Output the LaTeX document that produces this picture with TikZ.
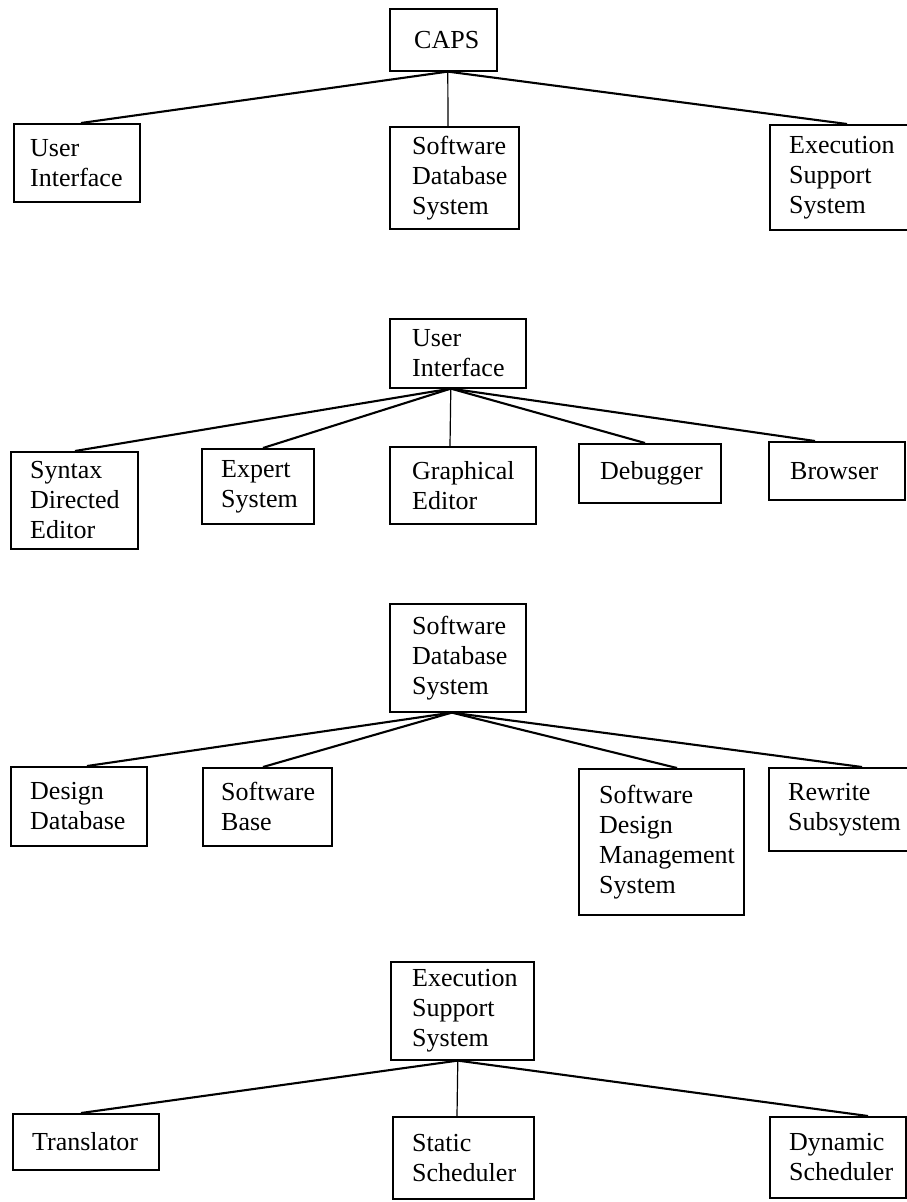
\documentclass[tikz,border=0pt]{standalone}
\usepackage{fontspec}
\setmainfont{Liberation Serif}

% box #1 at top-left (#2,#3), size #4 x #5, text indented by #6
\newcommand\placebox[7]{%
  \node[cbox, minimum width=#4pt, minimum height=#5pt, anchor=north west] (#1) at (#2,#3) {};
  \node[ctext, anchor=west] (#1-t) at ([xshift=#6pt]#1.west) {#7};
}

\begin{document}
\begin{tikzpicture}[x=1pt, y=-1pt,
  cbox/.style={draw, line width=1.6pt, inner sep=0pt},
  ctext/.style={inner sep=0pt, align=left, font=\fontsize{26}{30}\selectfont},
  conn/.style={line width=2.1pt},
  vconn/.style={line width=1.2pt}]
\clip (0,0) rectangle (907,1202);
\fill[white] (0,0) rectangle (907,1202);

% CAPS
\placebox{caps}{389}{8}{107}{62}{25}{CAPS}
\placebox{uiA}{13}{123}{126}{78}{17}{User\\Interface}
\placebox{sdsA}{389}{126}{129}{102}{23}{Software\\Database\\System}
\placebox{essA}{769}{124}{145}{105}{20}{Execution\\Support\\System}
\draw[conn] ([xshift=4.5pt]caps.south) -- ([xshift=68pt]uiA.north west);
\draw[vconn] ([xshift=4.5pt]caps.south) -- ([xshift=59pt]sdsA.north west);
\draw[conn] ([xshift=4.5pt]caps.south) -- ([xshift=78pt]essA.north west);

% User Interface
\placebox{uiB}{389}{318}{136}{69}{23}{User\\Interface}
\placebox{sde}{10}{451}{127}{97}{20}{Syntax\\Directed\\Editor}
\placebox{exp}{201}{448}{112}{75}{20}{Expert\\System}
\placebox{gra}{389}{446}{146}{77}{23}{Graphical\\Editor}
\placebox{deb}{578}{443}{142}{59}{22}{Debugger}
\placebox{bro}{768}{441}{136}{58}{22}{Browser}
\draw[conn] ([xshift=-7pt]uiB.south) -- ([xshift=65pt]sde.north west);
\draw[conn] ([xshift=-7pt]uiB.south) -- ([xshift=62pt]exp.north west);
\draw[vconn] ([xshift=-7pt]uiB.south) -- ([xshift=61pt]gra.north west);
\draw[conn] ([xshift=-7pt]uiB.south) -- ([xshift=67pt]deb.north west);
\draw[conn] ([xshift=-7pt]uiB.south) -- ([xshift=47pt]bro.north west);

% Software Database System
\placebox{sdsB}{389}{603}{136}{108}{23}{Software\\Database\\System}
\placebox{ddb}{10}{766}{136}{79}{20}{Design\\Database}
\placebox{sbase}{202}{767}{129}{78}{19}{Software\\Base}
\placebox{sdms}{578}{768}{165}{146}{21}{Software\\Design\\Management\\System}
\placebox{rew}{768}{767}{145}{83}{20}{Rewrite\\Subsystem}
\draw[conn] ([xshift=-6pt]sdsB.south) -- ([xshift=77pt]ddb.north west);
\draw[conn] ([xshift=-6pt]sdsB.south) -- ([xshift=61pt]sbase.north west);
\draw[conn] ([xshift=-6pt]sdsB.south) -- ([xshift=99pt]sdms.north west);
\draw[conn] ([xshift=-6pt]sdsB.south) -- ([xshift=94pt]rew.north west);

% Execution Support System
\placebox{essB}{390}{961}{143}{98}{22}{Execution\\Support\\System}
\placebox{tra}{12}{1113}{146}{56}{20}{Translator}
\placebox{sta}{392}{1116}{141}{82}{20}{Static\\Scheduler}
\placebox{dyn}{769}{1116}{136}{81}{20}{Dynamic\\Scheduler}
\draw[conn] ([xshift=-4.5pt]essB.south) -- ([xshift=69pt]tra.north west);
\draw[vconn] ([xshift=-4.5pt]essB.south) -- ([xshift=65pt]sta.north west);
\draw[conn] ([xshift=-4.5pt]essB.south) -- ([xshift=99pt]dyn.north west);
\end{tikzpicture}
\end{document}
